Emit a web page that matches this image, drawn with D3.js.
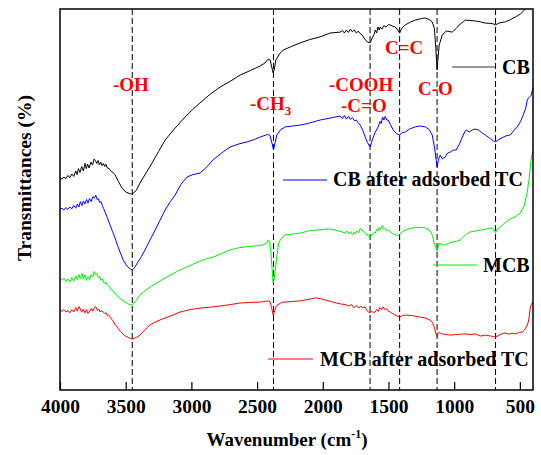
<!DOCTYPE html>
<html>
<head>
<meta charset="utf-8">
<script src="https://cdn.jsdelivr.net/npm/d3@7"></script>
<style>
  body { margin: 0; background: #fff; }
  text { font-family: "Times New Roman", "Liberation Serif", serif; font-weight: bold; }
</style>
</head>
<body>
<svg id="ftir" width="541" height="455"></svg>
<script>
// wavenumber (cm-1), transmittance (arb. units, offset for display)
const cb = [[4000,70.7],[3985,70.3],[3970,71],[3955,70.5],[3940,71.5],[3925,70.8],[3910,72],[3895,71.2],[3880,73],[3870,71.8],[3860,73.8],[3848,72.5],[3835,74.5],[3822,73],[3810,75.5],[3800,73.8],[3790,75.3],[3778,74],[3765,76],[3752,75],[3740,77],[3730,76.5],[3720,75.5],[3710,76.5],[3700,75],[3690,76],[3680,74.8],[3670,75.5],[3660,74.5],[3650,75.2],[3640,74],[3625,73.8],[3610,72.8],[3595,72.5],[3581,71.7],[3555,69.5],[3528,67.3],[3500,66],[3470,65.5],[3450,65.3],[3420,66.5],[3391,69],[3350,72],[3299,75.7],[3250,79.5],[3200,83.3],[3130,87],[3048,91],[2990,93.5],[2934,95.7],[2860,98.5],[2781,101],[2700,103],[2629,105],[2550,106.5],[2477,108],[2440,109],[2416,110.3],[2401,110],[2390,108],[2378,105.7],[2368,107],[2358,110],[2347,110.7],[2330,112],[2302,113.3],[2240,114.5],[2172,115.7],[2100,116.8],[2020,117.7],[1944,119],[1868,119.3],[1850,119.8],[1835,119],[1820,120],[1805,119.2],[1790,120.3],[1775,119.4],[1760,120],[1745,119],[1730,119.6],[1715,118.8],[1700,118.3],[1680,117],[1660,116],[1640,115.7],[1624,117.3],[1610,118.5],[1600,120],[1590,119],[1580,121],[1570,120],[1563,121],[1550,120.3],[1535,121.5],[1520,121],[1500,121.8],[1487,121.7],[1465,121.2],[1449,121],[1430,120],[1415,119],[1400,120.5],[1372,121.7],[1330,122.7],[1296,123.3],[1250,123.8],[1220,124],[1190,123.5],[1167,122.7],[1150,120.5],[1140,114],[1130,106.7],[1122,111],[1114,115],[1100,117],[1091,118.3],[1060,119.7],[1040,119.5],[1015,119.3],[985,120.5],[954,122],[930,122.8],[915,123.3],[880,123.2],[839,123],[800,122.7],[763,122.3],[720,122.2],[700,122],[685,121.7],[660,122.3],[611,122.7],[570,123.5],[535,124.3],[497,125.3],[475,126.2],[459,127],[430,129.3],[400,131.7]];

const cbTC = [[4000,60.3],[3985,60.6],[3970,60],[3955,60.8],[3940,60.2],[3925,61],[3910,60.4],[3895,61.5],[3880,60.6],[3868,62],[3856,61],[3845,62.8],[3833,61.5],[3822,63],[3810,62],[3798,63.5],[3787,62.3],[3775,63.8],[3762,62.8],[3750,64.5],[3738,64],[3728,65],[3718,63.5],[3708,63.8],[3698,62.5],[3688,62.8],[3678,61.5],[3668,60.5],[3657,59.3],[3640,57.5],[3619,55],[3600,52.8],[3581,50.7],[3562,48.2],[3543,46],[3520,43.5],[3497,41.7],[3470,40.5],[3450,40],[3430,41],[3406,42.7],[3380,44.5],[3353,46.7],[3315,50],[3276,53.3],[3240,56.5],[3200,60],[3160,62.8],[3124,65],[3080,68.5],[3033,71],[2990,71.8],[2934,72.3],[2890,74],[2835,76.7],[2770,79],[2705,81],[2640,82],[2576,82.7],[2520,83.5],[2477,84.3],[2420,85.2],[2401,84.8],[2385,82],[2375,80],[2365,82],[2350,85],[2320,86.8],[2286,87.7],[2230,88],[2172,88.3],[2100,89],[2020,90],[1960,90.5],[1906,91],[1870,91.3],[1850,90.5],[1835,91.5],[1820,90.3],[1805,91.2],[1791,90.2],[1775,90.8],[1760,89.8],[1745,90],[1730,89],[1715,88.3],[1695,86.5],[1677,84.3],[1660,82.5],[1640,81],[1624,83.3],[1600,86],[1578,87.7],[1565,89.5],[1555,88.8],[1545,91],[1535,90],[1525,91.2],[1513,90],[1502,90],[1485,88.5],[1464,86.7],[1440,85.5],[1415,85],[1395,85.8],[1372,86],[1340,87],[1296,87.7],[1260,88],[1220,87.7],[1190,86.8],[1167,85],[1150,81],[1130,74.3],[1118,77],[1106,78.3],[1090,77],[1068,77.7],[1050,79],[1030,79.3],[1005,80],[984,80],[960,82],[938,84.3],[920,86],[908,86.7],[885,86],[862,86.7],[840,87],[816,86.7],[790,85.8],[763,85],[725,83.8],[700,83],[685,82.7],[660,83.5],[626,84.3],[600,84.8],[573,85],[545,86.5],[520,87.7],[495,89.5],[474,91.7],[455,94],[444,96.7],[430,97.5],[413,98.3],[400,101]];

const mcb = [[4000,37],[3985,36.6],[3970,37.3],[3955,36.2],[3940,37],[3925,36],[3910,37.5],[3895,36.3],[3880,38],[3868,36.8],[3856,38.5],[3845,37.2],[3833,38.8],[3822,37],[3810,38.5],[3798,36.5],[3787,37.8],[3775,36.7],[3762,38.5],[3750,37.8],[3740,39.5],[3730,38.5],[3720,38.8],[3708,37.5],[3698,37.8],[3688,36.5],[3676,37],[3664,35.5],[3652,36],[3640,35],[3625,34.5],[3610,33.5],[3595,33],[3581,32.3],[3555,31],[3528,30],[3500,29.2],[3475,28.6],[3450,28.3],[3420,29.8],[3391,31.7],[3355,33],[3315,34.3],[3260,35.8],[3200,37.3],[3140,38.8],[3086,40],[3010,41.5],[2934,43],[2880,43.8],[2835,44.3],[2770,45.5],[2705,46.7],[2650,47.3],[2591,47.7],[2520,48],[2462,48.3],[2430,48.8],[2416,50],[2405,49.5],[2395,46],[2385,40],[2378,35.7],[2370,37],[2362,40],[2355,42.3],[2345,46],[2335,49],[2324,50],[2300,51.2],[2286,51.7],[2230,52],[2172,52.3],[2110,53],[2058,53.3],[2000,53.5],[1944,53.7],[1900,53.2],[1860,52.8],[1829,52.3],[1815,53],[1800,52],[1788,52.8],[1775,51.8],[1763,52.6],[1753,52],[1740,53],[1728,52.4],[1715,53.8],[1700,53.3],[1685,52.5],[1670,52],[1655,51.3],[1640,51],[1625,51.6],[1610,52.5],[1601,52.3],[1590,53.5],[1580,53],[1570,54.2],[1560,53.4],[1548,54.8],[1538,53.6],[1528,54],[1515,53],[1500,53.3],[1487,52.7],[1460,52],[1430,51.5],[1418,51.7],[1395,52.7],[1360,53.5],[1319,54],[1270,54.2],[1220,54],[1182,53],[1165,51.5],[1152,49],[1140,47.5],[1130,46.3],[1122,47.5],[1114,49],[1095,48.5],[1068,48.3],[1040,49],[1015,49.3],[985,49.5],[954,50],[935,50.8],[915,51.7],[877,52.7],[840,53],[801,53.3],[760,53.6],[725,54],[700,53.5],[690,52.5],[685,52.3],[675,53.5],[649,54.3],[620,55.5],[588,56.7],[560,57.3],[535,57.7],[515,58.3],[497,59],[467,61.5],[444,66],[428,71],[413,77.3],[400,80]];

const mcbTC = [[4000,26.7],[3985,26.2],[3970,26.8],[3955,26],[3940,26.5],[3925,25.7],[3910,26.8],[3895,26],[3880,27.5],[3868,26.3],[3856,27.8],[3848,27.3],[3835,26],[3822,27],[3810,25.7],[3798,26.8],[3787,25.5],[3775,26.2],[3762,27.2],[3750,26.3],[3738,27.5],[3726,27.7],[3715,26.5],[3705,27],[3695,26],[3685,26.5],[3672,26],[3660,25.5],[3650,25.8],[3640,24.8],[3630,25],[3619,24.3],[3600,23.2],[3583,22],[3566,21],[3540,19.5],[3513,18.3],[3480,17.5],[3450,17],[3420,17.5],[3391,18.3],[3355,20],[3315,21.7],[3260,23],[3200,24],[3140,25],[3086,26],[3010,26.8],[2934,27.3],[2860,27.6],[2781,28],[2700,28.5],[2629,29],[2550,29.2],[2477,29.3],[2430,29.6],[2416,29.7],[2400,29.3],[2390,27.5],[2378,25],[2368,26],[2355,27.8],[2347,28.3],[2320,29],[2302,29.3],[2240,29.5],[2172,29.7],[2110,30.2],[2058,30.7],[2020,30.5],[1982,30],[1930,29.4],[1868,28.7],[1830,28.5],[1800,28],[1780,28.5],[1765,27.5],[1753,27.7],[1740,28.2],[1725,27.3],[1710,28],[1695,27.4],[1677,27.7],[1665,26.5],[1652,26],[1640,25.7],[1628,26.3],[1615,25.8],[1601,26],[1590,26.8],[1578,26.2],[1565,27.5],[1552,26.8],[1540,27.7],[1528,26.8],[1515,27.2],[1502,26.3],[1487,26],[1470,25.5],[1450,25],[1430,24.6],[1415,24.3],[1395,24.8],[1372,25],[1320,24.8],[1258,24.3],[1220,24],[1182,23.3],[1165,22.5],[1152,21],[1140,19],[1130,17.7],[1122,18.8],[1114,19.3],[1105,19],[1091,18.7],[1060,18.5],[1030,18.3],[990,18.5],[954,18.6],[915,18.7],[880,18.5],[840,18.7],[801,18],[760,18.3],[725,18],[700,17.8],[685,17.7],[660,18.2],[635,18.8],[611,19],[580,18.6],[560,18.9],[535,18.7],[505,19.2],[482,19.3],[465,20],[451,21],[440,22],[430,24],[421,27.3],[413,28.5],[400,29.5]];

const seriesNames = ["CB", "CB after adsorbed TC", "MCB", "MCB after adsorbed TC"];
const seriesColors = ["#000000", "#0000ff", "#00ee00", "#ff0000"];
const peakLines = [3450, 2375, 1640, 1415, 1130, 685];
const xTicks = [4000, 3500, 3000, 2500, 2000, 1500, 1000, 500];

const width = 541, height = 455;
const margin = {top: 9, right: 8, bottom: 65, left: 60};
const innerWidth = width - margin.left - margin.right;
const innerHeight = height - margin.top - margin.bottom;

const svg = d3.select("#ftir");
const g = svg.append("g")
             .attr("transform", `translate(${margin.left}, ${margin.top})`);

const xScale = d3.scaleLinear()
                 .domain([4000, 400])
                 .range([0, innerWidth]);
const yScale = d3.scaleLinear()
                 .domain([0, 127])
                 .range([innerHeight, 0]);

g.append("clipPath")
 .attr("id", "clip")
 .append("rect")
    .attr("width", innerWidth)
    .attr("height", innerHeight);

// dashed peak markers
g.selectAll(".peak")
 .data(peakLines)
 .enter()
 .append("line")
    .attr("class", "peak")
    .attr("x1", d => xScale(d))
    .attr("x2", d => xScale(d))
    .attr("y1", 0)
    .attr("y2", innerHeight)
    .attr("stroke", "#000")
    .attr("stroke-width", 1)
    .attr("stroke-dasharray", "6,3");

const line = d3.line()
               .x(d => xScale(d[0]))
               .y(d => yScale(d[1]));

g.append("g")
 .attr("clip-path", "url(#clip)")
 .selectAll("path")
 .data([cb, cbTC, mcb, mcbTC])
 .enter()
 .append("path")
    .attr("d", line)
    .attr("fill", "none")
    .attr("stroke", (d, i) => seriesColors[i])
    .attr("stroke-width", 1);

// x axis, ticks pointing inward
const xAxis = d3.axisBottom(xScale)
                .tickValues(xTicks)
                .tickFormat(d3.format("d"))
                .tickSizeInner(-8)
                .tickSizeOuter(0)
                .tickPadding(9);

const xg = g.append("g")
            .attr("transform", `translate(0, ${innerHeight})`)
            .call(xAxis);
xg.select(".domain").remove();
xg.selectAll(".tick line").attr("stroke", "#000").attr("stroke-width", 1.2);
xg.selectAll(".tick text")
  .attr("font-size", 19.5)
  .attr("font-family", "'Times New Roman', 'Liberation Serif', serif")
  .attr("font-weight", "bold")
  .attr("fill", "#000");

// frame
g.append("rect")
 .attr("width", innerWidth)
 .attr("height", innerHeight)
 .attr("fill", "none")
 .attr("stroke", "#000")
 .attr("stroke-width", 1.5);

// legends (one per series, placed beside each curve)
const legendPos = [
    {x1: 392, x2: 435, y: 58, tx: 442, ty: 65},
    {x1: 223, x2: 267, y: 171, tx: 273, ty: 177},
    {x1: 373, x2: 417, y: 256, tx: 423, ty: 263},
    {x1: 208, x2: 253, y: 350, tx: 260, ty: 357}
];
const legend = g.selectAll(".legend")
                .data(seriesNames)
                .enter()
                .append("g")
                .attr("class", "legend");
legend.append("line")
      .attr("x1", (d, i) => legendPos[i].x1)
      .attr("x2", (d, i) => legendPos[i].x2)
      .attr("y1", (d, i) => legendPos[i].y)
      .attr("y2", (d, i) => legendPos[i].y)
      .attr("stroke", (d, i) => i === 0 ? "#333" : seriesColors[i])
      .attr("stroke-width", 1);
legend.append("text")
      .attr("x", (d, i) => legendPos[i].tx)
      .attr("y", (d, i) => legendPos[i].ty)
      .attr("font-size", 20)
      .attr("fill", "#000")
      .text(d => d);

// peak annotations
const ann = g.append("g").attr("fill", "#ff0000").attr("font-size", 19);
ann.append("text").attr("x", 53).attr("y", 82).text("-OH");
const ch3 = ann.append("text").attr("x", 190).attr("y", 101).text("-CH");
ch3.append("tspan").attr("font-size", 13).attr("dy", 5).text("3");
ann.append("text").attr("x", 269).attr("y", 82).text("-COOH");
ann.append("text").attr("x", 281).attr("y", 103).text("-C=O");
ann.append("text").attr("x", 325).attr("y", 45).text("C=C");
ann.append("text").attr("x", 358).attr("y", 86).text("C-O");

// axis titles
const xt = svg.append("text")
              .attr("x", 287)
              .attr("y", 446)
              .attr("text-anchor", "middle")
              .attr("font-size", 19)
              .text("Wavenumber (cm");
xt.append("tspan").attr("font-size", 12).attr("dy", -8).text("-1");
xt.append("tspan").attr("dy", 8).text(")");

svg.append("text")
   .attr("transform", "translate(31, 178) rotate(-90)")
   .attr("text-anchor", "middle")
   .attr("font-size", 19.5)
   .text("Transmittances (%)");
</script>
</body>
</html>
